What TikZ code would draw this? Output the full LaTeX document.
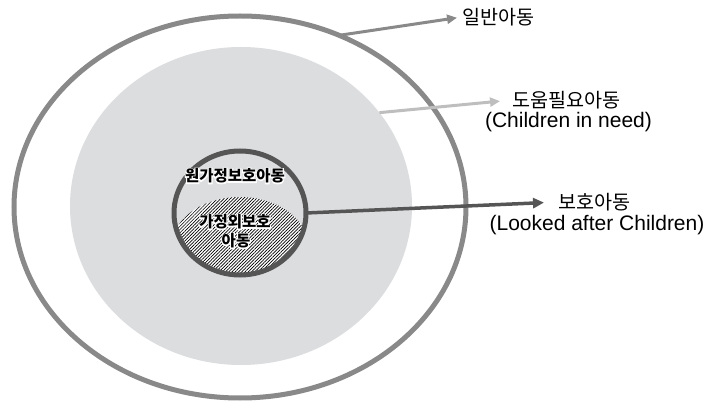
\documentclass[tikz,border=0pt]{standalone}
\usepackage{fontspec}
\setmainfont{Liberation Sans}
\newfontfamily\kr{Noto Sans CJK KR}
\newfontfamily\krhalo{Noto Sans CJK KR}[BoldFeatures={FakeBold=14}]
\usetikzlibrary{shapes.geometric,arrows.meta,patterns.meta}
\definecolor{outerc}{HTML}{898989}
\definecolor{midc}{HTML}{DCDDDF}
\definecolor{innerc}{HTML}{555555}
\definecolor{lightarr}{HTML}{BEBEBE}
\tikzset{
  ring/.style={ellipse, inner sep=0pt, outer sep=0pt},
  lbl/.style={inner sep=0pt, font=\kr\fontsize{19.6}{21}\selectfont, text=black},
  sub/.style={inner sep=0pt, font=\fontsize{21}{23}\selectfont, text=black},
  inlbl/.style={inner sep=0pt, font=\kr\bfseries\fontsize{15.5}{17}\selectfont, text=black},
  halo/.style={inner sep=0pt, font=\krhalo\bfseries\fontsize{15.5}{17}\selectfont, text=white},
}
\begin{document}
\begin{tikzpicture}[x=1pt,y=-1pt]
\useasboundingbox (0,0) rectangle (709,403);
% outer ellipse
\node[ring, draw=outerc, line width=5pt, fill=white, minimum width=452pt, minimum height=382pt] (outer) at (240,207) {};
% middle grey ellipse
\node[ring, fill=midc, minimum width=342pt, minimum height=318pt] (mid) at (241,206) {};
% hatched region
\begin{scope}
  \clip (240,213) ellipse [x radius=66, y radius=62];
  \fill[white] (240,246) ellipse [x radius=68, y radius=49];
  \fill[pattern={Lines[angle=45,distance=2.3pt,line width=0.7pt]}, pattern color=black] (240,246) ellipse [x radius=68, y radius=49];
\end{scope}
% inner circle
\node[ring, draw=innerc, line width=5pt, minimum width=132pt, minimum height=124pt] (inner) at (240,213) {};
% inner texts (white halo under black text)
\node[halo] (h1) at (235,176) {원가정보호아동};
\node[halo] (h2) at (235,222) {가정외보호};
\node[halo] (h3) at (236,241) {아동};
\node[inlbl] (t1) at (h1) {원가정보호아동};
\node[inlbl] (t2) at (h2) {가정외보호};
\node[inlbl] (t3) at (h3) {아동};
% labels
\node[lbl, anchor=west] (l1) at (462,17) {일반아동};
\node[lbl, anchor=west] (l2) at (512,100) {도움필요아동};
\node[sub] (l2b) at (568.5,122) {(Children in need)};
\node[lbl, anchor=west] (l3) at (558,202) {보호아동};
\node[sub] (l3b) at (597,225) {(Looked after Children)};
% arrows
\draw[draw=outerc, line width=3pt, -{Triangle[length=10pt,width=9pt]}, shorten >=5pt] (outer.60) -- (l1.west);
\draw[draw=lightarr, line width=3pt, -{Triangle[length=10pt,width=9pt]}, shorten >=12pt] (mid.34) -- (l2.west);
\draw[draw=innerc, line width=3.5pt, -{Triangle[length=11pt,width=10pt]}, shorten >=14pt] (inner.east) -- (l3.west);
\end{tikzpicture}
\end{document}
